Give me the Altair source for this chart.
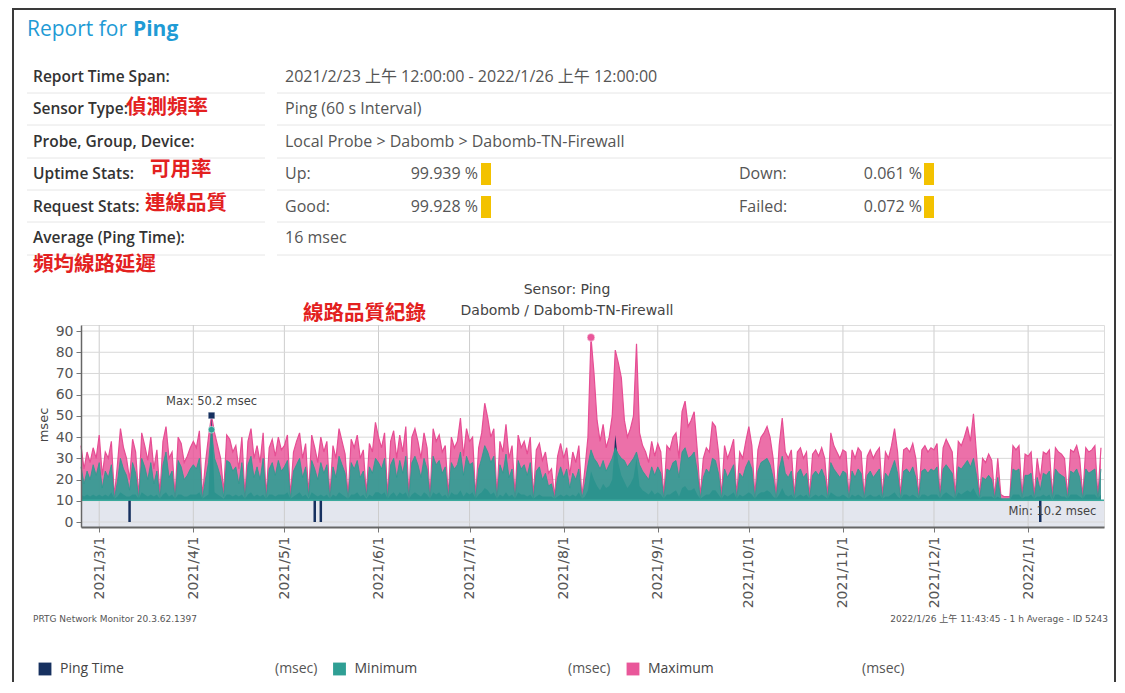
import altair as alt
import pandas as pd

# ---------------------------------------------------------------- data
START_DATE = "2021-02-23"
END_DATE = "2022-01-26"
MONTH_TICKS = ["2021-03-01", "2021-04-01", "2021-05-01", "2021-06-01", "2021-07-01",
               "2021-08-01", "2021-09-01", "2021-10-01", "2021-11-01", "2021-12-01",
               "2022-01-01"]
Y_TICKS = [0, 10, 20, 30, 40, 50, 60, 70, 80, 90]

SERIES = ["Ping Time", "Minimum", "Maximum"]

# daily values (msec), one entry per day from 2021-02-23
MAXIMUM = [
    36, 25, 33, 28, 35, 30,                                                  # Feb
    41, 22, 33, 30, 38, 12, 27, 44, 35, 30, 20, 39, 33, 12, 42, 36, 29, 40, 25, 34,
    13, 38, 45, 30, 33, 12, 40, 37, 28, 31, 35,                              # Mar
    38, 35, 43, 12, 28, 40, 50.2, 42, 36, 30, 14, 41, 39, 33, 36, 25, 40, 12, 38, 44,
    30, 36, 28, 42, 12, 35, 39, 31, 40, 34,                                  # Apr
    36, 41, 12, 33, 38, 42, 30, 37, 13, 41, 35, 28, 40, 33, 38, 12, 36, 30, 44, 38,
    32, 12, 39, 35, 41, 30, 34, 13, 37, 33, 47,                              # May
    40, 35, 42, 12, 38, 43, 30, 41, 33, 45, 12, 40, 44, 38, 30, 42, 35, 12, 44, 38,
    41, 33, 36, 12, 40, 35, 38, 49, 31, 44,                                  # Jun
    38, 40, 12, 35, 42, 56, 49, 40, 44, 12, 38, 33, 46, 30, 36, 12, 41, 35, 38, 32,
    40, 12, 34, 37, 29, 33, 23, 25, 12, 31, 37,                              # Jul
    30, 35, 22, 33, 28, 36, 12, 25, 40, 87, 70, 48, 38, 46, 35, 40, 50, 81, 75, 68,
    48, 40, 44, 50, 84, 42, 36, 33, 28, 38, 31,                              # Aug
    37, 33, 12, 36, 34, 40, 42, 30, 52, 57, 45, 48, 52, 34, 12, 30, 35, 33, 47, 45,
    33, 12, 36, 30, 34, 39, 12, 33, 30, 38,                                  # Sep
    45, 36, 12, 34, 40, 42, 45, 40, 30, 12, 36, 49, 33, 30, 34, 12, 33, 35, 30, 33,
    12, 32, 34, 31, 35, 30, 12, 42, 36, 33, 30,                              # Oct
    34, 33, 12, 34, 30, 35, 33, 12, 31, 34, 30, 33, 35, 12, 33, 30, 36, 44, 33, 12,
    34, 35, 33, 37, 30, 12, 34, 36, 33, 35,                                  # Nov
    34, 37, 12, 35, 39, 36, 33, 12, 38, 36, 40, 45, 38, 51, 32, 12, 30, 28, 32, 29,
    12, 30, 13, 12, 12, 12, 36, 34, 36, 12, 32,                              # Dec
    31, 33, 12, 30, 20, 33, 32, 34, 12, 35, 33, 32, 30, 12, 34, 33, 36, 30, 12, 35,
    33, 34, 36, 12, 35,                                                      # Jan
]
MINIMUM = [
    26, 18, 24, 20, 27, 22,
    28, 16, 24, 21, 27, 11, 19, 30, 25, 22, 15, 28, 23, 11, 30, 26, 20, 28, 18, 24,
    11, 27, 33, 21, 24, 11, 29, 26, 20, 22, 25,
    27, 25, 30, 11, 20, 28, 43.5, 30, 26, 21, 12, 29, 28, 24, 26, 18, 28, 11, 27, 31,
    21, 26, 20, 30, 11, 25, 28, 22, 29, 24,
    26, 29, 11, 24, 27, 30, 21, 26, 12, 29, 25, 20, 28, 23, 27, 11, 26, 21, 31, 27,
    23, 11, 28, 25, 29, 21, 24, 12, 26, 23, 30,
    28, 25, 30, 11, 27, 30, 21, 29, 23, 31, 11, 28, 31, 27, 21, 30, 25, 11, 31, 27,
    29, 23, 26, 11, 28, 25, 27, 33, 22, 31,
    27, 28, 11, 25, 30, 36, 33, 28, 31, 11, 27, 23, 32, 21, 25, 11, 29, 25, 27, 22,
    28, 11, 24, 26, 20, 23, 17, 18, 11, 21, 26,
    21, 25, 16, 23, 20, 25, 11, 18, 27, 34, 30, 28, 25, 29, 24, 27, 30, 35, 32, 30,
    29, 26, 28, 30, 33, 27, 24, 22, 20, 26, 22,
    26, 23, 11, 25, 24, 28, 29, 21, 33, 35, 30, 31, 33, 24, 11, 21, 25, 23, 30, 29,
    23, 11, 25, 21, 24, 27, 11, 23, 21, 26,
    29, 25, 11, 24, 28, 29, 30, 27, 21, 11, 25, 31, 23, 21, 24, 11, 23, 25, 21, 23,
    11, 22, 24, 22, 25, 21, 11, 28, 25, 23, 21,
    24, 23, 11, 24, 21, 25, 23, 11, 22, 24, 21, 23, 25, 11, 23, 21, 25, 29, 23, 11,
    24, 25, 23, 26, 21, 11, 24, 25, 23, 25,
    24, 26, 11, 25, 27, 25, 23, 11, 26, 25, 27, 29, 26, 30, 22, 11, 21, 20, 22, 20,
    11, 21, 11, 11, 11, 11, 25, 24, 25, 11, 22,
    22, 23, 11, 21, 15, 23, 22, 24, 11, 25, 23, 22, 21, 11, 24, 23, 25, 21, 11, 25,
    23, 24, 25, 11, 25,
]
PING_TIME = [
    13, 12, 13, 12, 13, 12,
    13, 12, 13, 12, 14, 11, 12, 14, 13, 12, 12, 13, 13, 11, 14, 13, 12, 13, 12, 13,
    11, 13, 14, 12, 13, 11, 13, 13, 12, 12, 13,
    13, 13, 14, 11, 12, 13, 50.2, 14, 13, 12, 11, 13, 13, 12, 13, 12, 13, 11, 13, 14,
    12, 13, 12, 13, 11, 13, 13, 12, 13, 13,
    13, 14, 11, 12, 13, 14, 12, 13, 11, 14, 13, 12, 13, 12, 13, 11, 13, 12, 14, 13,
    12, 11, 13, 13, 14, 12, 13, 11, 13, 12, 14,
    14, 13, 14, 11, 13, 14, 12, 14, 13, 14, 11, 13, 14, 13, 12, 14, 13, 11, 14, 13,
    14, 12, 13, 11, 14, 13, 13, 15, 12, 14,
    13, 14, 11, 13, 14, 16, 15, 13, 14, 11, 13, 12, 14, 12, 13, 11, 14, 13, 13, 12,
    13, 11, 12, 13, 12, 12, 12, 12, 11, 12, 13,
    12, 13, 12, 13, 12, 14, 11, 12, 15, 24, 20, 17, 15, 18, 16, 17, 20, 41, 28, 22,
    19, 16, 18, 21, 30, 17, 15, 14, 13, 15, 13,
    14, 13, 11, 13, 13, 14, 15, 12, 16, 17, 15, 15, 16, 13, 11, 12, 13, 13, 15, 15,
    13, 11, 13, 12, 13, 14, 11, 13, 12, 13,
    14, 13, 11, 13, 14, 14, 15, 14, 12, 11, 13, 16, 13, 12, 13, 11, 12, 13, 12, 13,
    11, 12, 13, 12, 13, 12, 11, 14, 13, 12, 12,
    13, 12, 11, 13, 12, 13, 12, 11, 12, 13, 12, 12, 13, 11, 12, 12, 13, 14, 12, 11,
    13, 13, 12, 13, 12, 11, 13, 13, 12, 13,
    13, 13, 11, 13, 14, 13, 12, 11, 14, 13, 14, 15, 14, 16, 13, 11, 12, 12, 12, 12,
    11, 12, 11, 10.5, 10.5, 10.5, 13, 13, 13, 11, 12,
    12, 13, 11, 12, 12, 13, 12, 13, 10.2, 13, 13, 12, 12, 11, 13, 13, 13, 12, 11, 13,
    13, 13, 13, 11, 13,
]
DOWNTIME = ["2021-03-11", "2021-05-11", "2021-05-13", "2022-01-05"]

# ---------------------------------------------------------------- texts
TITLE_A, TITLE_B = "Report for ", "Ping"
ROW_LABELS = ["Report Time Span:", "Sensor Type:", "Probe, Group, Device:",
              "Uptime Stats:", "Request Stats:", "Average (Ping Time):"]
ROW_VALUES = ["2021/2/23 上午 12:00:00 - 2022/1/26 上午 12:00:00",
              "Ping (60 s Interval)", "Local Probe > Dabomb > Dabomb-TN-Firewall",
              "", "", "16 msec"]
STATS = [("Up:", "99.939 %", "Down:", "0.061 %"),
         ("Good:", "99.928 %", "Failed:", "0.072 %")]
NOTES = ["偵測頻率", "可用率", "連線品質", "頻均線路延遲", "線路品質紀錄"]
CHART_TITLE = ["Sensor: Ping", "Dabomb / Dabomb-TN-Firewall"]
FOOT_LEFT = "PRTG Network Monitor 20.3.62.1397"
FOOT_RIGHT = "2022/1/26 上午 11:43:45 - 1 h Average - ID 5243"
UNIT = "(msec)"

# ---------------------------------------------------------------- styles
COLORS = ["#16305f", "#2f9f94", "#e9579a"]
OX, OY = 81, 325          # page position of plot's top-left corner
PLOT_W, PLOT_H = 1023, 202
SANS = "Open Sans, Noto Sans CJK TC, sans-serif"
CJK = "Noto Sans CJK TC"
CHART_FONT = "DejaVu Sans, Noto Sans CJK TC"

n = min(len(MAXIMUM), len(MINIMUM), len(PING_TIME))
dates = pd.date_range(START_DATE, periods=n, freq="D")
df = pd.concat([
    pd.DataFrame({"date": dates, "series": name, "value": vals[:n]})
    for name, vals in zip(SERIES, [PING_TIME, MINIMUM, MAXIMUM])
], ignore_index=True)

peaks = df.loc[df.groupby("series")["value"].idxmax()].reset_index(drop=True)
ping_df = df[df.series == "Ping Time"]
low = ping_df.loc[[ping_df["value"].idxmin()]].reset_index(drop=True)


def dt(s):
    t = pd.Timestamp(s)
    return alt.DateTime(year=t.year, month=t.month, date=t.day)


x_scale = alt.Scale(domain=[dt(START_DATE), dt(END_DATE)], nice=False)
y_scale = alt.Scale(domain=[-2.35, 92.85], nice=False, zero=False)
color_scale = alt.Scale(domain=SERIES, range=COLORS)

x_axis = alt.Axis(values=[dt(m) for m in MONTH_TICKS], format="%Y/%-m/%-d",
                  labelAngle=270, labelFont=CHART_FONT, labelFontSize=14,
                  labelColor="#555", tickSize=5, tickColor="#777",
                  domainColor="#666", domainWidth=2, grid=False, title=None,
                  labelPadding=4, labelOverlap=False, labelFlush=False, zindex=1)
y_axis = alt.Axis(values=Y_TICKS, labelFont=CHART_FONT, labelFontSize=14,
                  labelColor="#555", tickSize=5, tickColor="#777",
                  domainColor="#666", domainWidth=1.5, grid=False, title=None,
                  labelPadding=3, zindex=1)
legend = alt.Legend(orient="none", legendX=38 - OX, legendY=662 - OY,
                    direction="horizontal", title=None, symbolType="square",
                    symbolSize=165, symbolStrokeWidth=0, symbolOpacity=1,
                    labelFont=SANS, labelFontSize=14, labelColor="#444",
                    labelOffset=8, columnPadding=208.5, padding=0, offset=0)


def X(field):
    return alt.X(field, scale=x_scale, axis=x_axis)


def Y(field=None, datum=None):
    if datum is not None:
        return alt.Y(datum=datum, scale=y_scale, axis=y_axis)
    return alt.Y(field, scale=y_scale, axis=y_axis, stack=None)


ONE = pd.DataFrame({"k": [0]})


def txt(s, x, y, size=16, color="#444", font=SANS, weight="normal",
        align="left", angle=0):
    return alt.Chart(ONE).mark_text(
        text=s, align=align, baseline="middle", font=font, fontSize=size,
        fontWeight=weight, color=color, angle=angle
    ).encode(x=alt.value(x - OX), y=alt.value(y - OY))


def hline(y, x1, x2, color="#e6e6e6", w=1):
    return alt.Chart(ONE).mark_rule(color=color, strokeWidth=w).encode(
        x=alt.value(x1 - OX), x2=alt.value(x2 - OX), y=alt.value(y - OY))


def vline(x, y1, y2, color="#3a3a3a", w=2):
    return alt.Chart(ONE).mark_rule(color=color, strokeWidth=w).encode(
        x=alt.value(x - OX), y=alt.value(y1 - OY), y2=alt.value(y2 - OY))


def box(x1, x2, y1, y2, color="#f3c200"):
    return alt.Chart(ONE).mark_rect(color=color).encode(
        x=alt.value(x1 - OX), x2=alt.value(x2 - OX),
        y=alt.value(y1 - OY), y2=alt.value(y2 - OY))


def series_area(name, opacity):
    return alt.Chart(df).transform_filter(alt.datum.series == name).mark_area(
        opacity=opacity, interpolate="linear"
    ).encode(
        x=X("date:T"), y=Y("value:Q"), y2=alt.datum(10),
        color=alt.Color("series:N", scale=color_scale, legend=legend),
    )


def series_line(name, color, width, opacity):
    return alt.Chart(df).transform_filter(alt.datum.series == name).mark_line(
        color=color, strokeWidth=width, opacity=opacity, interpolate="linear"
    ).encode(x=X("date:T"), y=Y("value:Q"))


band = alt.Chart(ONE).mark_rect(color="#e3e6ee").encode(
    y=Y(datum=10), y2=alt.datum(-2.35))
xgrid = alt.Chart(pd.DataFrame({"d": pd.to_datetime(MONTH_TICKS)})).mark_rule(
    color="#cdcdcd", strokeWidth=1).encode(x=X("d:T"))
ygrid = alt.Chart(pd.DataFrame({"v": Y_TICKS})).mark_rule(
    color="#d8d8d8", strokeWidth=1).encode(y=Y("v:Q"))

base_line = alt.Chart(ONE).mark_rule(color="#3aa99d", strokeWidth=1.5).encode(
    y=Y(datum=10.2))

down = alt.Chart(pd.DataFrame({"d": pd.to_datetime(DOWNTIME)})).mark_rule(
    color=COLORS[0], strokeWidth=2.5).encode(
    x=X("d:T"), y=Y(datum=10), y2=alt.datum(0))


def peak_mark(name, shape, size, color):
    return alt.Chart(peaks).transform_filter(alt.datum.series == name).mark_point(
        shape=shape, filled=True, size=size, opacity=1, color=color,
        stroke="#ffffff", strokeWidth=0.5
    ).encode(x=X("date:T"), y=Y("value:Q"))


max_label = alt.Chart(peaks).transform_filter(
    alt.datum.series == "Ping Time"
).transform_calculate(
    lbl='"Max: " + format(datum.value, ".1f") + " msec"'
).mark_text(font=CHART_FONT, fontSize=11.5, color="#444", dy=-13,
            align="center", baseline="middle").encode(
    x=X("date:T"), y=Y("value:Q"), text="lbl:N")
min_label = alt.Chart(low).transform_calculate(
    lbl='"Min: " + format(datum.value, ".1f") + " msec"'
).mark_text(font=CHART_FONT, fontSize=11.5, color="#444", align="center",
            baseline="middle").encode(
    x=X("date:T"), y=Y(datum=4.6), text="lbl:N")

layers = [band, xgrid, ygrid,
          series_area("Maximum", 0.85), series_line("Maximum", "#e64d93", 1.2, 1),
          series_area("Ping Time", 1.0),
          series_area("Minimum", 0.9), series_line("Minimum", "#2b9a8f", 1, 0.8),
          base_line, down,
          peak_mark("Maximum", "circle", 60, COLORS[2]),
          peak_mark("Ping Time", "square", 45, COLORS[0]),
          peak_mark("Minimum", "circle", 45, COLORS[1]),
          max_label, min_label]

# ---- page frame
layers += [vline(13, 8, 693), vline(1115, 8, 693), hline(9, 12, 1116, "#3a3a3a", 2)]

# ---- header
layers += [txt(TITLE_A, 27, 30, size=21, color="#1f9bd5"),
           txt(TITLE_B, 133, 30, size=21, color="#1f9bd5", weight="bold")]
ROW_Y = [77, 109, 142, 174, 207, 238]
for lab, val, y in zip(ROW_LABELS, ROW_VALUES, ROW_Y):
    layers.append(txt(lab, 33, y, size=15.5, color="#333", weight=600))
    if val:
        layers.append(txt(val, 285, y, color="#555"))
for (a, av, b, bv), y in zip(STATS, ROW_Y[3:5]):
    layers += [txt(a, 285, y, color="#555"),
               txt(av, 478, y, color="#555", align="right"),
               box(481, 491, y - 11, y + 11),
               txt(b, 739, y, color="#555"),
               txt(bv, 922, y, color="#555", align="right"),
               box(924, 934, y - 11, y + 11)]
for y in [93, 125, 158, 190, 222, 255]:
    layers += [hline(y, 27, 265), hline(y, 277, 1112)]

RED = "#e3211f"
for s, (x, y) in zip(NOTES, [(126, 108), (150, 170), (145, 204), (33, 265), (303, 314)]):
    layers.append(txt(s, x, y, size=20.5, color=RED, font=CJK, weight="bold"))

# ---- chart titles, axis title, footers, legend units
layers += [txt(CHART_TITLE[0], 567, 290, size=14, color="#444", font=CHART_FONT, align="center"),
           txt(CHART_TITLE[1], 567, 311, size=14, color="#444", font=CHART_FONT, align="center"),
           txt("msec", 44, 425, size=13, color="#444", font=CHART_FONT, align="center", angle=270),
           txt(FOOT_LEFT, 33, 619, size=9, color="#555", font=CHART_FONT),
           txt(FOOT_RIGHT, 1108, 619, size=9, color="#555", font=CHART_FONT, align="right")]
for x in [275, 568, 862]:
    layers.append(txt(UNIT, x, 669, size=14, color="#555"))

chart = alt.layer(*layers).properties(
    width=PLOT_W, height=PLOT_H,
    padding={"left": OX - 8, "top": OY - 8, "right": 12, "bottom": 155},
    autosize=alt.AutoSizeParams(type="none"),
).configure_view(stroke="#d0d0d0", strokeWidth=1).configure(background="white")

chart.save("out.html", embed_options={"renderer": "svg", "actions": False})
